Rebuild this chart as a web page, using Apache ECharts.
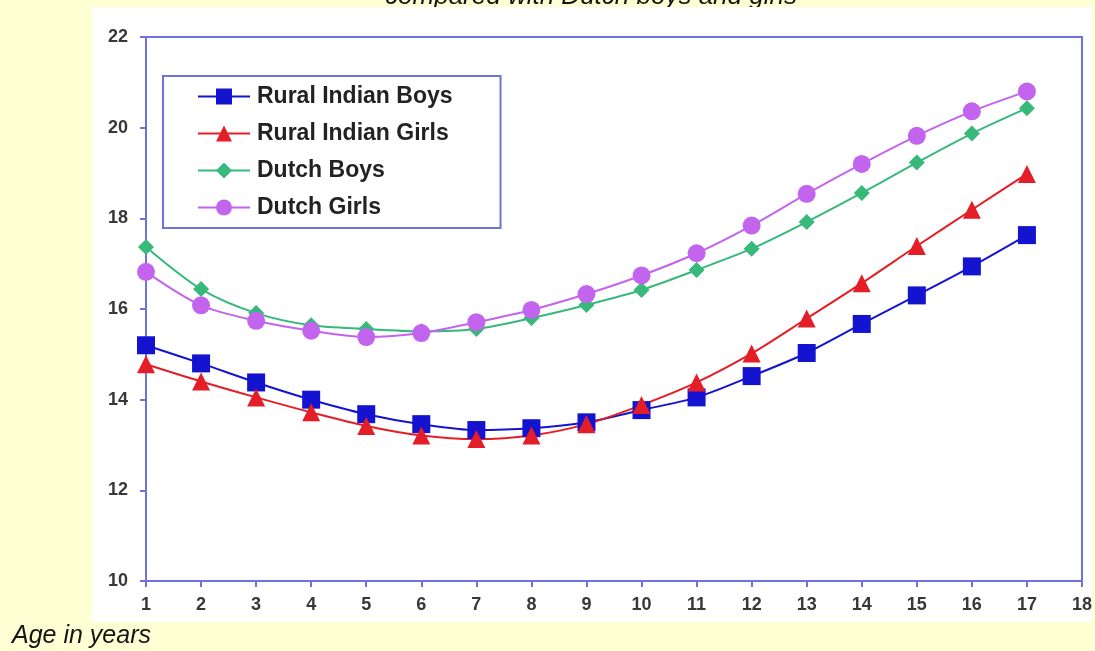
<!DOCTYPE html>
<html>
<head>
<meta charset="utf-8">
<script src="https://cdn.jsdelivr.net/npm/echarts@6/dist/echarts.min.js"></script>
<style>
  html, body { margin: 0; padding: 0; background: #ffffd4; }
  #chart { width: 1095px; height: 651px; }
</style>
</head>
<body>
<div id="chart"></div>
<script>
// Age (years) on the x axis
const ages = [1, 2, 3, 4, 5, 6, 7, 8, 9, 10, 11, 12, 13, 14, 15, 16, 17];

// BMI-type values per age for each group
const ruralIndianBoys  = [15.2, 14.8, 14.38, 14.0, 13.68, 13.46, 13.33, 13.37, 13.5, 13.77, 14.05, 14.52, 15.03, 15.67, 16.3, 16.94, 17.63];
const ruralIndianGirls = [14.78, 14.4, 14.05, 13.72, 13.42, 13.21, 13.13, 13.21, 13.46, 13.88, 14.38, 15.02, 15.79, 16.57, 17.39, 18.19, 18.98];
const dutchBoys        = [17.37, 16.44, 15.91, 15.64, 15.56, 15.51, 15.56, 15.8, 16.09, 16.42, 16.86, 17.33, 17.92, 18.56, 19.23, 19.87, 20.43];
const dutchGirls       = [16.82, 16.08, 15.74, 15.52, 15.38, 15.47, 15.71, 15.98, 16.33, 16.74, 17.23, 17.84, 18.54, 19.2, 19.82, 20.36, 20.8];

const seriesNames = ['Rural Indian Boys', 'Rural Indian Girls', 'Dutch Boys', 'Dutch Girls'];
const titleText = 'compared with Dutch boys and girls';
const xAxisTitle = 'Age in years';

const FONT = "'Liberation Sans', Arial, sans-serif";
const FRAME = '#7272dc';

function pairs(values) {
  return ages.map((a, i) => [a, values[i]]);
}

function lineSeries(name, values, color, symbol, size) {
  return {
    name: name,
    type: 'line',
    z: 4,
    data: pairs(values),
    smooth: 0.3,
    symbol: symbol,
    symbolSize: size,
    lineStyle: { color: color, width: 2 },
    itemStyle: { color: color },
    emphasis: { disabled: true }
  };
}

const chart = echarts.init(document.getElementById('chart'), null, { renderer: 'canvas' });

chart.setOption({
  backgroundColor: '#ffffd4',
  animation: false,
  graphic: [
    {
      type: 'text', z: 0,
      style: {
        text: titleText, x: 591, y: -3,
        textAlign: 'center', textVerticalAlign: 'middle',
        font: 'italic 26px ' + FONT, fill: '#151515'
      }
    },
    {
      type: 'rect', z: 1,
      shape: { x: 92, y: 7, width: 1000, height: 615 },
      style: { fill: '#ffffff' }
    },
    {
      type: 'text', z: 1,
      style: {
        text: xAxisTitle, x: 12, y: 636,
        textAlign: 'left', textVerticalAlign: 'middle',
        font: 'italic 25px ' + FONT, fill: '#151515'
      }
    }
  ],
  grid: {
    left: 146, right: 13, top: 37, bottom: 70,
    show: true, z: 3,
    borderColor: FRAME, borderWidth: 2,
    backgroundColor: 'transparent'
  },
  legend: {
    z: 5,
    orient: 'vertical',
    left: 163, top: 76,
    data: seriesNames,
    itemWidth: 52, itemHeight: 20,
    itemGap: 14,
    padding: [9, 48, 9, 34],
    backgroundColor: '#ffffff',
    borderColor: FRAME, borderWidth: 2,
    textStyle: {
      fontFamily: FONT, fontSize: 23, fontWeight: 'bold',
      color: '#222222', lineHeight: 23, padding: [0, 0, 0, 2]
    }
  },
  xAxis: {
    type: 'value', z: 3,
    min: 1, max: 18, interval: 1,
    axisLine: { show: true, lineStyle: { color: FRAME, width: 2 } },
    axisTick: { show: true, length: 6, lineStyle: { color: FRAME, width: 2 } },
    splitLine: { show: false },
    axisLabel: {
      margin: 15, fontFamily: FONT, fontSize: 18, fontWeight: 'bold',
      color: '#383838', showMaxLabel: true, showMinLabel: true
    }
  },
  yAxis: {
    type: 'value', z: 3,
    min: 10, max: 22, interval: 2,
    axisLine: { show: true, lineStyle: { color: FRAME, width: 2 } },
    axisTick: { show: true, length: 6, lineStyle: { color: FRAME, width: 2 } },
    splitLine: { show: false },
    axisLabel: {
      margin: 18, fontFamily: FONT, fontSize: 18, fontWeight: 'bold',
      color: '#383838'
    }
  },
  series: [
    lineSeries(seriesNames[0], ruralIndianBoys, '#1414d0', 'rect', 18),
    lineSeries(seriesNames[1], ruralIndianGirls, '#e41e26', 'triangle', 18),
    lineSeries(seriesNames[2], dutchBoys, '#36b97a', 'diamond', 16),
    lineSeries(seriesNames[3], dutchGirls, '#c364ee', 'circle', 18)
  ]
});
</script>
</body>
</html>
